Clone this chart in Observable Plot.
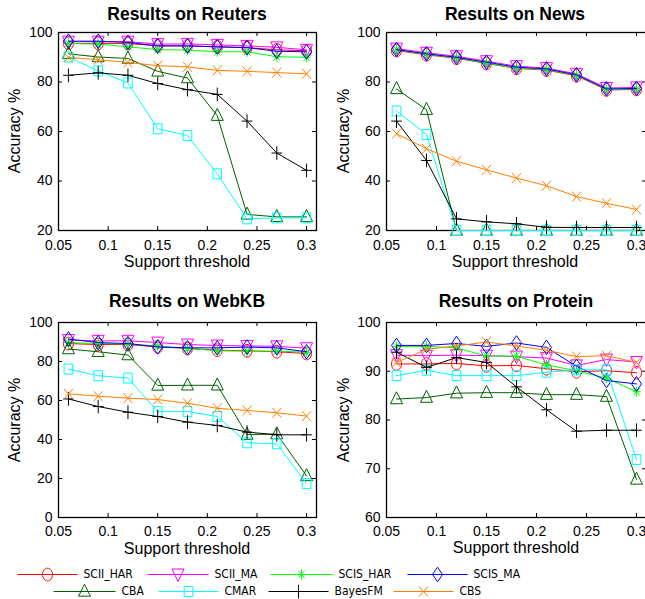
<!DOCTYPE html>
<html><head><meta charset="utf-8">
<script src="https://cdn.jsdelivr.net/npm/d3@7"></script>
<script src="https://cdn.jsdelivr.net/npm/@observablehq/plot@0.6"></script>
<style>
html,body{margin:0;padding:0;background:#fff;}
#root{position:relative;width:645px;height:599px;overflow:hidden;font-family:"Liberation Sans",Arial,Helvetica,sans-serif;color:#000;}
.abs{position:absolute;white-space:nowrap;line-height:1;}
.title{font-weight:bold;font-size:17.5px;transform:translate(-50%,-50%);}
.xl{font-size:16px;transform:translate(-50%,-50%);}
.yl{font-size:16px;transform:translate(-50%,-50%) rotate(-90deg);}
</style>
</head><body><div id="root"></div>
<script>
// ---------------- data ----------------
const methods = ["SCII_HAR", "SCII_MA", "SCIS_HAR", "SCIS_MA", "CBA", "CMAR", "BayesFM", "CBS"];
const thresholds = [0.06, 0.09, 0.12, 0.15, 0.18, 0.21, 0.24, 0.27, 0.30];
const xTicks = [0.05, 0.1, 0.15, 0.2, 0.25, 0.3];
const yTicksReuters = [20, 40, 60, 80, 100];
const yTicksNews = [20, 40, 60, 80, 100];
const yTicksWebKB = [0, 20, 40, 60, 80, 100];
const yTicksProtein = [60, 70, 80, 90, 100];

const reuters = {
  SCII_HAR: [95.6, 95.6, 95.6, 94.6, 94.6, 94.2, 93.9, 93.0, 92.6],
  SCII_MA:  [96.3, 96.3, 96.3, 95.3, 95.4, 95.0, 94.6, 94.0, 93.0],
  SCIS_HAR: [95.6, 95.3, 94.2, 93.1, 92.9, 92.2, 92.2, 90.2, 90.0],
  SCIS_MA:  [96.5, 96.5, 96.0, 94.6, 94.6, 94.2, 93.9, 92.4, 92.2],
  CBA:      [91.4, 90.1, 89.5, 84.3, 81.6, 66.4, 26.5, 25.5, 25.5],
  CMAR:     [90.1, 84.5, 79.6, 61.1, 58.4, 42.9, 24.7, 25.1, 25.1],
  BayesFM:  [82.7, 83.7, 82.7, 79.4, 76.9, 75.0, 64.2, 51.3, 44.3],
  CBS:      [89.9, 89.0, 87.9, 86.6, 86.1, 84.7, 84.3, 83.8, 83.3]
};
const news = {
  SCII_HAR: [92.7, 91.0, 89.6, 87.5, 85.5, 84.8, 82.5, 76.8, 77.0],
  SCII_MA:  [93.5, 91.8, 90.4, 88.4, 86.4, 85.6, 83.3, 77.6, 77.8],
  SCIS_HAR: [93.0, 91.2, 89.8, 87.6, 85.7, 85.0, 82.7, 77.0, 77.2],
  SCIS_MA:  [93.1, 91.4, 90.0, 88.0, 86.0, 85.3, 82.9, 77.2, 77.4],
  CBA:      [77.2, 68.8, 20, 20, 20, 20, 20, 20, 20],
  CMAR:     [68.3, 58.8, 20, 20, 20, 20, 20, 20, 20],
  BayesFM:  [64.2, 48.3, 24.7, 23.5, 22.7, 21.3, 21.2, 21.2, 21.2],
  CBS:      [59.1, 53.0, 48.0, 44.5, 41.2, 38.1, 33.7, 31.0, 28.5]
};
const webkb = {
  SCII_HAR: [89.2, 88.7, 88.7, 87.5, 86.7, 85.8, 85.5, 85.0, 84.1],
  SCII_MA:  [91.0, 90.6, 90.6, 89.7, 88.7, 88.2, 88.0, 87.8, 86.8],
  SCIS_HAR: [89.7, 89.2, 89.0, 87.9, 86.7, 85.5, 85.3, 85.3, 84.8],
  SCIS_MA:  [91.5, 89.7, 89.2, 87.5, 87.0, 87.0, 87.4, 87.0, 85.0],
  CBA:      [86.4, 85.0, 83.3, 67.7, 67.8, 67.8, 42.5, 42.8, 21.3],
  CMAR:     [76.1, 72.7, 71.5, 54.3, 54.3, 51.8, 38.3, 37.8, 17.4],
  BayesFM:  [60.8, 56.9, 54.0, 51.8, 48.9, 47.2, 43.8, 42.4, 42.4],
  CBS:      [63.4, 62.2, 61.2, 60.5, 58.6, 56.0, 54.9, 53.7, 52.0]
};
const protein = {
  SCII_HAR: [91.5, 91.5, 91.6, 91.1, 91.2, 90.5, 89.9, 90.1, 89.7],
  SCII_MA:  [93.3, 93.2, 93.3, 93.2, 93.0, 92.7, 91.2, 92.4, 91.9],
  SCIS_HAR: [95.1, 95.1, 94.8, 93.1, 93.1, 91.3, 90.1, 88.6, 85.8],
  SCIS_MA:  [95.3, 95.3, 95.7, 95.1, 95.8, 94.9, 91.0, 88.1, 87.4],
  CBA:      [84.3, 84.6, 85.5, 85.6, 85.6, 85.2, 85.2, 84.8, 67.8],
  CMAR:     [89.1, 90.2, 89.1, 89.1, 89.1, 89.8, 90.3, 90.3, 71.9],
  BayesFM:  [93.9, 90.8, 92.8, 91.8, 86.8, 82.1, 77.7, 77.9, 77.9],
  CBS:      [91.8, 94.5, 95.2, 96.0, 95.2, 94.3, 93.0, 93.2, 91.8]
};

// ---------------- styles ----------------
const colors = {
  SCII_HAR: "#ff0000", SCII_MA: "#ff00ff", SCIS_HAR: "#00ff00", SCIS_MA: "#0000ff",
  CBA: "#006000", CMAR: "#00ffff", BayesFM: "#000000", CBS: "#ff8000"
};
const K = (size) => Math.sqrt(size / Math.PI);
const symEllipse = (rx, ry) => ({draw(ctx, size) {
  const k = K(size), a = rx * k, b = ry * k, c = 0.5523;
  ctx.moveTo(a, 0);
  ctx.bezierCurveTo(a, b * c, a * c, b, 0, b);
  ctx.bezierCurveTo(-a * c, b, -a, b * c, -a, 0);
  ctx.bezierCurveTo(-a, -b * c, -a * c, -b, 0, -b);
  ctx.bezierCurveTo(a * c, -b, a, -b * c, a, 0);
  ctx.closePath();
}});
const symPoly = (pts) => ({draw(ctx, size) {
  const k = K(size);
  pts.forEach(([x, y], i) => i ? ctx.lineTo(x * k, y * k) : ctx.moveTo(x * k, y * k));
  ctx.closePath();
}});
const symSegs = (segs) => ({draw(ctx, size) {
  const k = K(size);
  for (const [x1, y1, x2, y2] of segs) { ctx.moveTo(x1 * k, y1 * k); ctx.lineTo(x2 * k, y2 * k); }
}});
const symbols = {
  SCII_HAR: symEllipse(5, 6.3),
  SCII_MA: symPoly([[-6, -5.5], [6, -5.5], [0, 7]]),
  SCIS_HAR: symSegs([[0, -5, 0, 5], [-4, 0, 4, 0], [-3.2, -3.8, 3.2, 3.8], [-3.2, 3.8, 3.2, -3.8]]),
  SCIS_MA: symPoly([[0, -7.3], [5, 0], [0, 7.3], [-5, 0]]),
  CBA: symPoly([[0, -7.3], [6, 4.7], [-6, 4.7]]),
  CMAR: symPoly([[-4.3, -5], [4.3, -5], [4.3, 5], [-4.3, 5]]),
  BayesFM: symSegs([[0, -6.8, 0, 6.8], [-5.3, 0, 5.3, 0]]),
  CBS: symSegs([[-4.5, -5, 4.5, 5], [-4.5, 5, 4.5, -5]])
};

const root = document.getElementById("root");
const FONT = '"Liberation Sans", Arial, Helvetica, sans-serif';

function addText(cls, text, x, y) {
  const d = document.createElement("div");
  d.className = "abs " + cls;
  d.textContent = text;
  d.style.left = x + "px";
  d.style.top = y + "px";
  root.appendChild(d);
}

function panel(cfg) {
  const {data, yDomain, yTicks, left, top, width, height, ml, mr, mt, mb, tickPad} = cfg;
  const innerW = width - ml - mr, innerH = height - mt - mb;
  const marks = [
    Plot.axisX(xTicks, {tickSize: 0, tickPadding: tickPad, tickFormat: (d) => String(d), label: null, fontSize: 14}),
    Plot.axisY(yTicks, {tickSize: 0, tickPadding: 6, label: null, fontSize: 14}),
    Plot.tickX(xTicks, {x: (d) => d, insetTop: innerH - 4, stroke: "black"}),
    Plot.tickX(xTicks, {x: (d) => d, insetBottom: innerH - 4, stroke: "black"}),
    Plot.tickY(yTicks, {y: (d) => d, insetRight: innerW - 4, stroke: "black"}),
    Plot.tickY(yTicks, {y: (d) => d, insetLeft: innerW - 4, stroke: "black"}),
    Plot.frame({stroke: "black", strokeWidth: 1.3})
  ];
  for (const m of methods) {
    const rows = thresholds.map((x, i) => ({x, y: data[m][i]}));
    marks.push(Plot.line(rows, {x: "x", y: "y", stroke: colors[m], strokeWidth: 1}));
    marks.push(Plot.dot(rows, {x: "x", y: "y", r: 1, symbol: symbols[m], fill: "none", stroke: colors[m], strokeWidth: 1}));
  }
  const svg = Plot.plot({
    width, height, marginLeft: ml, marginRight: mr, marginTop: mt, marginBottom: mb,
    x: {domain: [0.05, 0.31], label: null},
    y: {domain: yDomain, label: null},
    style: {fontFamily: FONT, fontSize: "14px", color: "#000", background: "transparent", overflow: "visible"},
    marks
  });
  svg.style.position = "absolute";
  svg.style.left = left + "px";
  svg.style.top = top + "px";
  root.appendChild(svg);
  const cx = left + ml + innerW / 2;
  addText("title", cfg.title, cfg.titleX ?? cx, cfg.titleY);
  addText("xl", "Support threshold", cfg.titleX ?? cx, top + height - mb + cfg.xlOff);
  addText("yl", "Accuracy %", cfg.ylX, top + mt + innerH / 2);
}

panel({title: "Results on Reuters", data: reuters, yDomain: [20, 100], yTicks: yTicksReuters,
  left: 0, top: 0, width: 322, height: 280, ml: 58, mr: 6, mt: 32, mb: 50, tickPad: 10,
  titleY: 14.5, xlOff: 32, ylX: 15});
panel({title: "Results on News", data: news, yDomain: [20, 100], yTicks: yTicksNews,
  left: 322, top: 0, width: 326, height: 280, ml: 64, mr: 2, mt: 32, mb: 50, tickPad: 10,
  titleX: 515, titleY: 14.5, xlOff: 32, ylX: 344});
panel({title: "Results on WebKB", data: webkb, yDomain: [0, 100], yTicks: yTicksWebKB,
  left: 0, top: 280, width: 322, height: 280, ml: 58, mr: 6, mt: 42, mb: 43, tickPad: 9,
  titleY: 302, xlOff: 32, ylX: 15});
panel({title: "Results on Protein", data: protein, yDomain: [60, 100], yTicks: yTicksProtein,
  left: 322, top: 280, width: 326, height: 280, ml: 64, mr: 2, mt: 42, mb: 43, tickPad: 9,
  titleX: 516, titleY: 302, xlOff: 31, ylX: 344});

// ---------------- legend ----------------
const legendSlots = [
  {x1: 17, x2: 77, y: 14}, {x1: 147, x2: 208, y: 14}, {x1: 270, x2: 332, y: 14}, {x1: 407, x2: 467, y: 14},
  {x1: 53, x2: 115, y: 31}, {x1: 158, x2: 218, y: 31}, {x1: 268, x2: 328, y: 31}, {x1: 393, x2: 453, y: 31}
];
const legendRows = methods.map((m, i) => ({m, ...legendSlots[i], xm: (legendSlots[i].x1 + legendSlots[i].x2) / 2}));
const legendMarks = [
  Plot.link(legendRows, {x1: "x1", x2: "x2", y1: "y", y2: "y", stroke: (d) => colors[d.m], strokeWidth: 1})
];
for (const r of legendRows) {
  legendMarks.push(Plot.dot([r], {x: "xm", y: "y", r: 1, symbol: symbols[r.m], fill: "none", stroke: colors[r.m], strokeWidth: 1}));
}
legendMarks.push(Plot.text(legendRows, {x: (d) => d.x2 + 6, y: "y", text: "m", textAnchor: "start",
  fontSize: 12, fontFamily: '"Liberation Sans Narrow", "DejaVu Sans Condensed", Arial, sans-serif', fill: "black"}));
const legend = Plot.plot({
  width: 645, height: 39, margin: 0, axis: null,
  x: {type: "identity"}, y: {type: "identity"},
  style: {background: "transparent", overflow: "visible", fontFamily: FONT},
  marks: legendMarks
});
legend.style.position = "absolute";
legend.style.left = "0px";
legend.style.top = "560px";
root.appendChild(legend);
</script>
</body></html>
